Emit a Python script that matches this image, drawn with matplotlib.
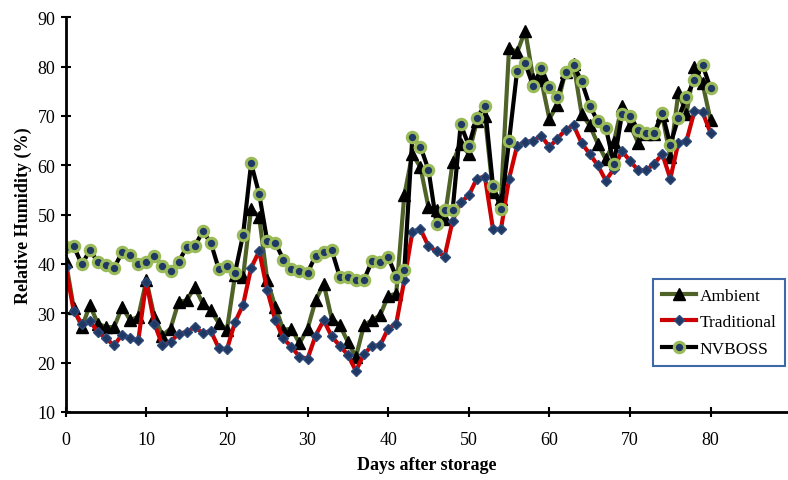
import matplotlib
matplotlib.use("Agg")
import matplotlib.pyplot as plt

plt.rcParams['font.family'] = ['Liberation Serif', 'DejaVu Serif']

# relative humidity (%) per day after storage
days = list(range(0, 81))

ambient = [40.7, 31.0, 27.2, 31.6, 27.9, 27.2, 27.2, 31.3, 28.6, 29.3,
           36.7, 29.3, 25.5, 26.9, 32.3, 32.6, 35.3, 32.0, 30.6, 28.0,
           26.7, 37.7, 37.4, 51.2, 49.5, 36.7, 31.3, 26.6, 26.9, 23.9,
           26.9, 32.6, 36.0, 28.9, 27.6, 24.2, 21.2, 27.6, 28.6, 29.6,
           33.5, 34.0, 53.9, 62.3, 59.6, 51.5, 50.9, 49.2, 60.6, 64.4,
           62.3, 68.9, 70.0, 54.6, 53.2, 83.8, 82.9, 87.3, 77.5, 77.2,
           69.4, 72.3, 79.0, 80.5, 70.4, 68.1, 64.4, 61.2, 64.7, 72.1,
           68.2, 64.6, 66.4, 66.4, 70.1, 61.7, 74.8, 70.4, 79.9, 76.6,
           69.1]

traditional = [39.4, 30.4, 27.9, 28.4, 26.2, 24.9, 23.5, 25.7, 24.9, 24.5,
               36.4, 27.9, 23.5, 24.2, 25.9, 26.2, 27.2, 26.0, 26.4, 22.9,
               22.7, 28.2, 31.7, 39.2, 42.6, 34.7, 28.6, 24.9, 23.2, 21.2,
               20.8, 25.5, 28.6, 25.3, 23.4, 21.6, 18.3, 21.8, 23.4, 23.5,
               26.9, 27.9, 36.7, 46.5, 47.1, 43.6, 42.6, 41.5, 48.8, 52.5,
               53.9, 57.3, 57.7, 47.1, 47.1, 57.3, 64.0, 64.7, 65.0, 66.0,
               63.7, 65.4, 67.2, 68.1, 64.5, 62.3, 60.0, 56.9, 59.3, 62.9,
               60.9, 59.0, 59.0, 60.3, 62.3, 57.3, 64.6, 64.9, 71.0, 70.8,
               66.5]

nvboss = [43.4, 43.6, 39.9, 42.8, 40.4, 39.7, 39.2, 42.4, 41.9, 39.9,
          40.4, 41.7, 39.5, 38.5, 40.4, 43.4, 43.6, 46.6, 44.3, 38.9,
          39.5, 38.2, 45.9, 60.4, 54.2, 44.6, 44.3, 40.9, 38.9, 38.5,
          38.2, 41.7, 42.4, 42.8, 37.4, 37.4, 36.8, 36.8, 40.6, 40.4,
          41.4, 37.4, 38.7, 65.7, 63.8, 59.1, 48.2, 51.0, 51.0, 68.3,
          64.0, 69.6, 72.1, 55.9, 51.2, 65.0, 79.2, 80.7, 76.0, 79.7,
          75.8, 73.8, 79.0, 80.3, 77.0, 72.1, 68.9, 67.6, 60.3, 70.4,
          70.0, 67.2, 66.5, 66.5, 70.6, 64.2, 69.6, 73.8, 77.3, 80.3,
          75.6]

fig = plt.figure(figsize=(7.88, 4.81), dpi=100)
ax = fig.add_axes([0.0834, 0.1414, 0.9166, 0.8206])

ax.plot(days, ambient, color='#4F6228', linewidth=3, marker='^',
        markersize=9, markerfacecolor='black', markeredgecolor='black',
        label='Ambient')
ax.plot(days, traditional, color='#CC0000', linewidth=3, marker='D',
        markersize=5.5, markerfacecolor='#1F3864', markeredgecolor='#2E4A7A',
        label='Traditional')
ax.plot(days, nvboss, color='black', linewidth=3, marker='o',
        markersize=7.5, markerfacecolor='#1F3864', markeredgecolor='#9BBB59',
        markeredgewidth=2.2, label='NVBOSS')

ax.set_xlim(0, 89.6)
ax.set_ylim(10, 90)
ax.set_xticks(range(0, 81, 10))
ax.set_yticks(range(10, 91, 10))

for side in ['top', 'right']:
    ax.spines[side].set_visible(False)
for side in ['left', 'bottom']:
    ax.spines[side].set_linewidth(2)

ax.tick_params(axis='both', direction='inout', length=7, width=1.5,
               labelsize=13)
ax.tick_params(axis='x', pad=10)
ax.tick_params(axis='y', pad=4)

ax.set_xlabel('Days after storage', fontsize=13, fontweight='bold',
              labelpad=6)
ax.set_ylabel('Relative Humidity (%)', fontsize=13, fontweight='bold',
              labelpad=4)

leg = ax.legend(loc='upper left', bbox_to_anchor=(0.813, 0.337),
                fontsize=12.5, fancybox=False, framealpha=1,
                handlelength=2.0, handletextpad=0.2, borderpad=0.5,
                labelspacing=0.6, borderaxespad=0)
leg.get_frame().set_edgecolor('#3F68A8')
leg.get_frame().set_linewidth(1.5)

fig.savefig('out.png', dpi=100)
